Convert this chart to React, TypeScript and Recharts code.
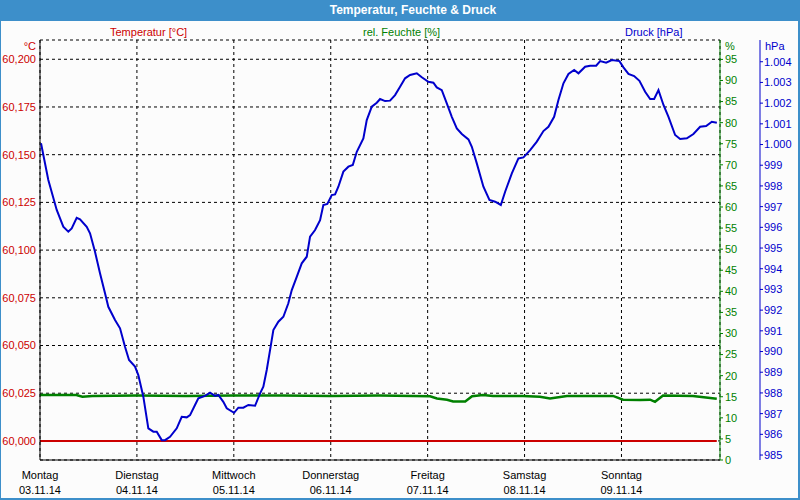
import React from 'react';
import { ComposedChart, Line, XAxis, YAxis, CartesianGrid } from 'recharts';

const dayNames = ['Montag', 'Dienstag', 'Mittwoch', 'Donnerstag', 'Freitag', 'Samstag', 'Sonntag'];
const dayDates = ['03.11.14', '04.11.14', '05.11.14', '06.11.14', '07.11.14', '08.11.14', '09.11.14'];
const dayTicks = [0, 24, 48, 72, 96, 120, 144];

const tempTicks = [60, 60.025, 60.05, 60.075, 60.1, 60.125, 60.15, 60.175, 60.2];
const humTicks = [0, 5, 10, 15, 20, 25, 30, 35, 40, 45, 50, 55, 60, 65, 70, 75, 80, 85, 90, 95];
const pressTicks = [985, 986, 987, 988, 989, 990, 991, 992, 993, 994, 995, 996, 997, 998, 999, 1000, 1001, 1002, 1003, 1004];

// hours since Monday 00:00
const tempHours = [0, 167.6];
const tempValues = [60, 60];

const humHours = [0, 9, 10.5, 13, 24, 36, 48, 60, 72, 84, 92.4, 96.6, 98.3, 100.8, 102.3, 105.3, 107, 109.7, 112.2, 119.6, 123.8, 126.3, 130.5, 141.9, 144.4, 148.6, 151.1, 152.3, 154.3, 161.7, 167.6];
const humValues = [15.4, 15.4, 15.0, 15.2, 15.3, 15.2, 15.3, 15.3, 15.2, 15.3, 15.2, 15.1, 14.6, 14.3, 13.9, 13.9, 15.1, 15.4, 15.2, 15.2, 15.0, 14.6, 15.2, 15.2, 14.3, 14.2, 14.3, 13.8, 15.3, 15.2, 14.5];

const pressHours = [
  0.25, 2.06, 4.14, 5.77, 7.01, 7.85, 9.09, 9.91, 11.57, 12.39, 13.62, 14.86, 16.1, 16.92, 18.58, 19.82, 21.05, 22.05, 23.53,
  24.35, 25.59, 26.83, 28.07, 28.91, 30.15, 30.96, 32.2, 33.86, 35.1, 36.34, 37.16, 38.39, 39.21, 40.87, 42.11, 43.35, 44.17, 45.4, 46.25,
  48.06, 49.12, 50.36, 51.6, 53.26, 54.5, 55.31, 56.15, 56.97, 57.79, 59.03, 60.27, 61.5, 62.35, 63.58, 64.82, 66.06, 66.88, 68.12, 69.36, 70.17, 71.16,
  72.25, 73.07, 73.89, 75.13, 76.37, 77.46, 78.45, 80.08, 80.92, 82.16, 83.4, 84.22, 85.46, 86.69, 87.93, 89.17, 90.41, 91.65, 93.31, 94.55,
  96.18, 97.42, 98.26, 99.5, 100.74, 101.98, 103.22, 104.46, 106.1, 106.94, 108.17, 109.81, 111.3, 112.71, 114.12, 115.19, 116.85, 118.48,
  119.72, 121.38, 123.04, 124.67, 125.91, 127.32, 128.39, 129.63, 130.87, 132.28, 133.35, 135.0, 136.24, 137.73, 138.72, 140.2, 141.62, 143.5,
  144.49, 145.73, 147.14, 148.45, 149.86, 151.1, 152.09, 153.16, 154.4, 155.64, 157.29, 158.53, 160.19, 161.82, 163.48, 164.97, 166.38, 167.62,
];
const pressValues = [
  1000.06, 998.29, 996.84, 996.03, 995.79, 995.95, 996.46, 996.39, 996.03, 995.71, 994.82, 993.78, 992.81, 992.16, 991.52, 991.12, 990.23, 989.59, 989.27,
  988.86, 987.82, 986.29, 986.13, 986.13, 985.72, 985.72, 985.88, 986.29, 986.85, 986.82, 986.93, 987.42, 987.74, 987.86, 988.01, 987.86, 987.9, 987.57, 987.26,
  987.04, 987.29, 987.29, 987.42, 987.38, 987.98, 988.3, 989.11, 990.07, 991.04, 991.44, 991.68, 992.33, 992.97, 993.61, 994.26, 994.58, 995.55, 995.87, 996.35, 997.08, 997.13,
  997.56, 997.59, 997.96, 998.69, 998.93, 999.01, 999.65, 1000.3, 1001.18, 1001.83, 1002.02, 1002.2, 1002.1, 1002.12, 1002.39, 1002.79, 1003.2, 1003.36, 1003.44, 1003.25,
  1003.03, 1002.99, 1002.76, 1002.63, 1001.99, 1001.34, 1000.78, 1000.51, 1000.25, 999.89, 999.09, 997.96, 997.32, 997.24, 997.08, 997.72, 998.61, 999.33,
  999.38, 999.73, 1000.14, 1000.65, 1000.86, 1001.34, 1002.15, 1002.96, 1003.41, 1003.6, 1003.44, 1003.76, 1003.81, 1003.81, 1004.03, 1003.95, 1004.08, 1004.03,
  1003.73, 1003.41, 1003.31, 1003.08, 1002.55, 1002.2, 1002.2, 1002.63, 1001.91, 1001.34, 1000.46, 1000.27, 1000.3, 1000.51, 1000.86, 1000.89, 1001.1, 1001.05,
];

const tempData = tempHours.map((h, i) => ({ h, v: tempValues[i] }));
const humData = humHours.map((h, i) => ({ h, v: humValues[i] }));
const pressData = pressHours.map((h, i) => ({ h, v: pressValues[i] }));

const RED = '#cc0000';
const GREEN = '#008000';
const BLUE = '#0000cc';
const FRAME = '#3d8fca';
const FONT = '"Liberation Sans", Arial, sans-serif';

const fmtTemp = (v: number) => v.toFixed(3).replace('.', ',');
const fmtPress = (v: number) => (v >= 1000 ? '1.' + String(Math.round(v - 1000)).padStart(3, '0') : String(v));

function DayTick({ x, y, payload }: any) {
  const i = dayTicks.indexOf(payload.value);
  return (
    <text x={x} textAnchor="middle" fontSize={11} fontFamily={FONT} fill="#000">
      <tspan x={x} y={y + 19}>{dayNames[i]}</tspan>
      <tspan x={x} y={y + 34}>{dayDates[i]}</tspan>
    </text>
  );
}

export default function App() {
  const abs = (style: React.CSSProperties) => ({ position: 'absolute' as const, fontSize: 11, lineHeight: '13px', whiteSpace: 'nowrap' as const, ...style });
  return (
    <div style={{ position: 'absolute', left: 0, top: 0, width: 800, height: 500, background: '#fcfcfc', fontFamily: FONT, overflow: 'hidden' }}>
      <div style={{ position: 'absolute', left: 0, top: 0, width: 800, height: 21, background: FRAME, color: '#fff', fontWeight: 'bold', fontSize: 12, lineHeight: '21px', textAlign: 'center', paddingLeft: 26, boxSizing: 'border-box' }}>
        Temperatur, Feuchte &amp; Druck
      </div>
      <div style={{ position: 'absolute', left: 0, top: 0 }}>
        <ComposedChart width={800} height={500} margin={{ top: 40, right: 0, bottom: 0, left: 0 }}>
          <CartesianGrid xAxisId="bottom" yAxisId="temp" stroke="#000" strokeDasharray="3 3" />
          <XAxis xAxisId="bottom" dataKey="h" type="number" domain={[0, 168.4]} ticks={dayTicks} interval={0} height={40}
            axisLine={{ stroke: '#000' }} tickLine={false} tickSize={0} tickMargin={0} tick={<DayTick />} allowDataOverflow />
          <XAxis xAxisId="top" orientation="top" type="number" domain={[0, 168.4]} height={0} tick={false} tickLine={false} axisLine={{ stroke: '#000' }} />
          <YAxis yAxisId="temp" orientation="left" width={40} domain={[59.99, 60.2101]} ticks={tempTicks} interval={0} tickFormatter={fmtTemp}
            axisLine={{ stroke: '#000' }} tickLine={false} tickSize={0} tickMargin={4} tick={{ fill: RED, fontSize: 11, fontFamily: FONT }} allowDataOverflow />
          <YAxis yAxisId="hum" orientation="right" width={40} domain={[0, 99.6]} ticks={humTicks} interval={0}
            axisLine={{ stroke: GREEN }} tickLine={{ stroke: GREEN }} tickSize={3} tickMargin={2} tick={{ fill: GREEN, fontSize: 11, fontFamily: FONT }} allowDataOverflow />
          <YAxis yAxisId="press" orientation="right" width={40} domain={[984.76, 1005.05]} ticks={pressTicks} interval={0} tickFormatter={fmtPress}
            axisLine={{ stroke: BLUE }} tickLine={{ stroke: BLUE }} tickSize={3} tickMargin={1} tick={{ fill: BLUE, fontSize: 11, fontFamily: FONT }} allowDataOverflow />
          <Line xAxisId="bottom" yAxisId="temp" data={tempData} dataKey="v" type="linear" stroke={RED} strokeWidth={2} dot={false} isAnimationActive={false} />
          <Line xAxisId="bottom" yAxisId="hum" data={humData} dataKey="v" type="linear" stroke={GREEN} strokeWidth={2.5} dot={false} isAnimationActive={false} />
          <Line xAxisId="bottom" yAxisId="press" data={pressData} dataKey="v" type="linear" stroke={BLUE} strokeWidth={2} dot={false} isAnimationActive={false} />
        </ComposedChart>
      </div>
      <div style={abs({ left: 110, top: 26, color: RED })}>Temperatur [°C]</div>
      <div style={abs({ left: 363, top: 26, color: GREEN })}>rel. Feuchte [%]</div>
      <div style={abs({ left: 625, top: 26, color: BLUE })}>Druck [hPa]</div>
      <div style={abs({ right: 800 - 36, top: 40, color: RED })}>°C</div>
      <div style={abs({ left: 725, top: 40, color: GREEN })}>%</div>
      <div style={abs({ left: 765, top: 40, color: BLUE })}>hPa</div>
      <div style={{ position: 'absolute', left: 0, top: 0, width: 800, height: 500, boxSizing: 'border-box', borderLeft: `1px solid ${FRAME}`, borderRight: `2px solid ${FRAME}`, borderBottom: `2px solid ${FRAME}`, pointerEvents: 'none' }} />
    </div>
  );
}
